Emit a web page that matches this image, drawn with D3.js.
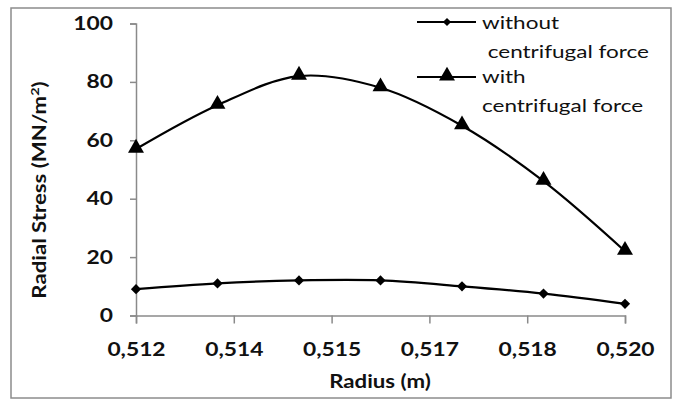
<!DOCTYPE html>
<html>
<head>
<meta charset="utf-8">
<script src="https://cdn.jsdelivr.net/npm/d3@7"></script>
<style>
  html, body { margin: 0; padding: 0; background: #fff; }
  svg { display: block; font-family: Lato, "Open Sans", sans-serif; }
</style>
</head>
<body>
<svg id="chart" width="674" height="401"></svg>
<script>
// Radius positions (m)
const radius = [0.512, 0.5133333, 0.5146667, 0.516, 0.5173333, 0.5186667, 0.520];
// Radial stress without centrifugal force (MN/m^2)
const withoutForce = [9, 11, 12, 12, 10, 7.5, 4];
// Radial stress with centrifugal force (MN/m^2)
const withForce = [57, 72, 82, 78, 65, 46, 22];
// Axis ticks
const xTicks = [0.512, 0.5136, 0.5152, 0.5168, 0.5184, 0.520];
const yTicks = [0, 20, 40, 60, 80, 100];
const seriesNames = [["without", " centrifugal force"], ["with", "centrifugal force"]];

// the lettering is a wide humanist face: Lato stretched horizontally
const STRETCH = 1.2;

const svg = d3.select("#chart");

// outer frame
svg.append("rect")
  .attr("x", 11).attr("y", 8).attr("width", 660).attr("height", 390)
  .attr("fill", "none").attr("stroke", "#8c8c8c").attr("stroke-width", 1.5);

const x = d3.scaleLinear().domain([0.512, 0.520]).range([136, 625]);
const y = d3.scaleLinear().domain([0, 100]).range([315.5, 23.5]);

const axisColor = "#8a8a8a";

const xAxis = svg.append("g")
  .attr("transform", `translate(0,${y(0)})`)
  .call(d3.axisBottom(x).tickValues(xTicks)
    .tickFormat(d => d3.format(".3f")(d).replace(".", ","))
    .tickSize(8).tickPadding(19));
const yAxis = svg.append("g")
  .attr("transform", `translate(${x(0.512)},0)`)
  .call(d3.axisLeft(y).tickValues(yTicks).tickSize(6).tickPadding(17));

[xAxis, yAxis].forEach(g => {
  g.select(".domain").attr("stroke", axisColor).attr("stroke-width", 1.5);
  g.selectAll(".tick line").attr("stroke", axisColor).attr("stroke-width", 1.5);
  g.selectAll(".tick text")
    .attr("fill", "#111").attr("font-size", 19).attr("font-weight", 700)
    .attr("font-family", "Lato, sans-serif")
    .each(function () {
      const t = d3.select(this);
      const tx = +t.attr("x") || 0;
      t.attr("x", 0).attr("transform", `translate(${tx},0) scale(${STRETCH},1)`);
    });
});

// axis titles
svg.append("text")
  .attr("transform", `translate(380,388) scale(${STRETCH},1)`)
  .attr("text-anchor", "middle")
  .attr("font-size", 18.5).attr("font-weight", 700).attr("fill", "#111")
  .text("Radius (m)");

const yt = svg.append("text")
  .attr("transform", `translate(46,190) rotate(-90) scale(${STRETCH},1)`)
  .attr("text-anchor", "middle")
  .attr("font-size", 18.5).attr("font-weight", 700).attr("fill", "#111");
yt.append("tspan").text("Radial Stress (MN/m");
yt.append("tspan").attr("font-size", 12).attr("dy", -7).text("2");
yt.append("tspan").attr("dy", 7).text(")");

// lines
const line = d3.line()
  .x((d, i) => x(radius[i]))
  .y(d => y(d))
  .curve(d3.curveCatmullRom.alpha(0.5));

[withoutForce, withForce].forEach(vals => {
  svg.append("path")
    .attr("d", line(vals))
    .attr("fill", "none").attr("stroke", "#000").attr("stroke-width", 2.2);
});

// diamond = square turned 45 degrees
const diamond = d3.symbol().type(d3.symbolSquare).size(52);
const triangle = d3.symbol().type(d3.symbolTriangle).size(110);

svg.append("g").selectAll("path").data(withoutForce).join("path")
  .attr("transform", (d, i) => `translate(${x(radius[i])},${y(d)}) rotate(45)`)
  .attr("d", diamond).attr("fill", "#000");

svg.append("g").selectAll("path").data(withForce).join("path")
  .attr("transform", (d, i) => `translate(${x(radius[i])},${y(d) - 1})`)
  .attr("d", triangle).attr("fill", "#000");

// legend
const legend = svg.append("g");
const legRows = [
  { y: 22, ty: 29, mark: g => g.attr("d", d3.symbol().type(d3.symbolSquare).size(34)).attr("transform", "translate(447,22) rotate(45)") },
  { y: 77, ty: 83, mark: g => g.attr("d", triangle).attr("transform", "translate(447,76)") }
];
legRows.forEach((r, k) => {
  legend.append("line")
    .attr("x1", 417).attr("x2", 476).attr("y1", r.y).attr("y2", r.y)
    .attr("stroke", "#000").attr("stroke-width", 2.2);
  legend.append("path").attr("fill", "#000").call(r.mark);
  [[seriesNames[k][0], r.ty], [seriesNames[k][1], r.ty + 28.5]].forEach(([txt, ty]) => {
    legend.append("text")
      .attr("transform", `translate(482,${ty}) scale(1.25,1)`)
      .attr("font-size", 18).attr("fill", "#111")
      .attr("xml:space", "preserve")
      .text(txt);
  });
});
</script>
</body>
</html>
